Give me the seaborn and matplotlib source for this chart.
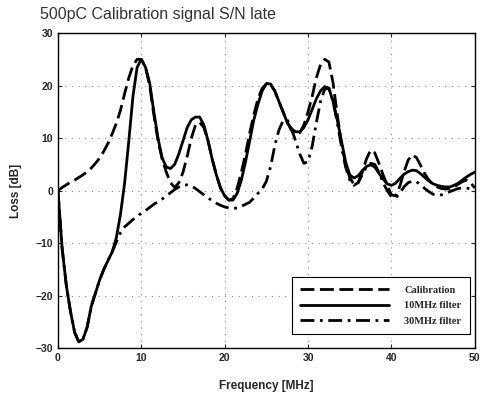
import numpy as np
import pandas as pd
import matplotlib
matplotlib.use("Agg")
import matplotlib.pyplot as plt
import seaborn as sns

# frequency grid [MHz]
freq = [i * 0.5 for i in range(101)]

calibration = [
    0, 0.6, 1.1, 1.6, 2.0, 2.5, 3.0, 3.6, 4.3, 5.2,
    6.2, 7.5, 9.0, 10.8, 12.8, 15.3, 18.5, 21.5, 23.8, 25,
    25, 23.5, 20, 14.5, 9.5, 6, 3.5, 1.5, 0.6, 1.5,
    3.5, 6.5, 10, 12.5, 13, 12, 9.5, 6, 3, 0.5,
    -1, -1.8, -1.5, 0.5, 3.5, 7, 11, 14.5, 17.5, 19.5,
    20.3, 20.2, 19, 17, 15, 13, 11.5, 10.8, 11, 12.5,
    15, 18, 21.5, 24, 25, 24.5, 20.5, 14.5, 9, 5,
    2.5, 1.2, 1.5, 3.5, 6, 7.7, 7.2, 5.2, 3, 1,
    -0.8, -1, 0.8, 3.5, 5.8, 6.8, 6.3, 4.8, 3.2, 2,
    1.2, 0.7, 0.4, 0.3, 0.4, 0.7, 1.2, 1.7, 2, 1.5,
    0.5,
]

filter_10mhz = [
    0, -11, -18, -23, -27, -28.8, -28.3, -26, -22, -19.5,
    -17, -15, -13.3, -11.7, -9, -4.5, 1.5, 9.5, 18, 23.5,
    25, 23.5, 20.5, 15, 10, 6.2, 4.5, 4.2, 5, 7,
    9.5, 12, 13.5, 14, 14, 12.5, 9.5, 6, 3, 0.5,
    -1, -1.8, -1.8, -0.5, 2, 5.5, 9.5, 13.5, 16.5, 19,
    20.4, 20.3, 19, 17, 15, 13, 11.8, 11.2, 11.2, 12,
    13.5, 15.5, 17.5, 19, 19.8, 19.5, 17, 13.5, 9.5, 5.5,
    3, 2.4, 2.8, 3.8, 4.6, 4.9, 4.5, 3.3, 2.2, 1.3,
    1, 1.4, 2.3, 3.1, 3.6, 3.9, 3.8, 3.2, 2.5, 1.8,
    1.3, 1.0, 0.8, 0.7, 0.7, 1.0, 1.4, 2.0, 2.6, 3.1,
    3.5,
]

filter_30mhz = [
    0, -11, -18, -23, -27, -28.8, -28.3, -26, -22, -19.5,
    -17, -15, -13.3, -11.7, -9.8, -8, -6.9, -6.2, -5.5, -4.9,
    -4.3, -3.8, -3.2, -2.6, -2.1, -1.6, -1.0, -0.4, 0.2, 0.7,
    1.0, 1.1, 0.9, 0.4, -0.2, -0.8, -1.4, -1.9, -2.4, -2.8,
    -3.1, -3.3, -3.4, -3.3, -3.0, -2.6, -2.2, -1.4, -0.5, 0.3,
    1.8, 4.5, 8.5, 11.5, 13.3, 13.5, 11.8, 9.5, 7, 5.2,
    5.5, 8.5, 13, 17, 19.3, 19.5, 17, 13, 8.5, 4.5,
    2.0, 1.0, 1.5, 3, 4.5, 5.2, 5, 3.5, 1.5, 0,
    -1.2, -1.4, -0.5, 0.7, 1.5, 1.8, 1.7, 1.1, 0.4, -0.2,
    -0.7, -0.9, -0.8, -0.5, -0.2, 0.1, 0.4, 0.5, 0.5, 0.3,
    0.1,
]

series_names = ["Calibration", "10MHz filter", "30MHz filter"]

df = pd.DataFrame({
    "freq": freq * 3,
    "loss": calibration + filter_10mhz + filter_30mhz,
    "series": sum([[n] * len(freq) for n in series_names], []),
})

sns.set_style("ticks")
plt.rcParams["font.family"] = ["Liberation Sans", "DejaVu Sans"]

fig = plt.figure(figsize=(4.83, 4.03), dpi=100)
ax = fig.add_axes([0.120, 0.136, 0.863, 0.782])

sns.lineplot(
    data=df, x="freq", y="loss", hue="series", style="series",
    palette={n: "black" for n in series_names},
    dashes={"Calibration": (5, 2), "10MHz filter": "", "30MHz filter": (5, 2, 1, 2)},
    sort=False, lw=2, ax=ax, legend=False,
)

ax.set_xlim(0, 50)
ax.set_ylim(-30, 30)
ax.set_xticks([0, 10, 20, 30, 40, 50])
ax.set_yticks([-30, -20, -10, 0, 10, 20, 30])
ax.tick_params(direction="in", top=True, right=True, length=3, width=0.8, labelsize=7.5)
for lab in ax.get_xticklabels() + ax.get_yticklabels():
    lab.set_fontweight("bold")
ax.grid(True, linestyle=(0, (1, 5)), color="#888888", lw=0.8)
for sp in ax.spines.values():
    sp.set_linewidth(1.0)
    sp.set_color("black")

ax.set_xlabel("Frequency [MHz]", fontsize=8.5, fontweight="bold", labelpad=12)
ax.set_ylabel("Loss [dB]", fontsize=8.5, fontweight="bold", labelpad=10)

# legend rebuilt with plain line handles
lines = ax.get_lines()[:3]
leg = ax.legend(
    lines, series_names, loc="lower right", bbox_to_anchor=(0.988, 0.044),
    borderaxespad=0, handlelength=8.5, fancybox=False, framealpha=1,
    edgecolor="black", prop={"family": "Liberation Serif", "weight": "bold", "size": 7.5},
    labelspacing=0.6, borderpad=0.8, handletextpad=1.5,
)
leg.get_frame().set_linewidth(0.8)

fig.text(0.083, 0.965, "500pC Calibration signal S/N late", fontsize=11.5,
         ha="left", va="center", color="#333333")

fig.savefig("out.png", dpi=100)
